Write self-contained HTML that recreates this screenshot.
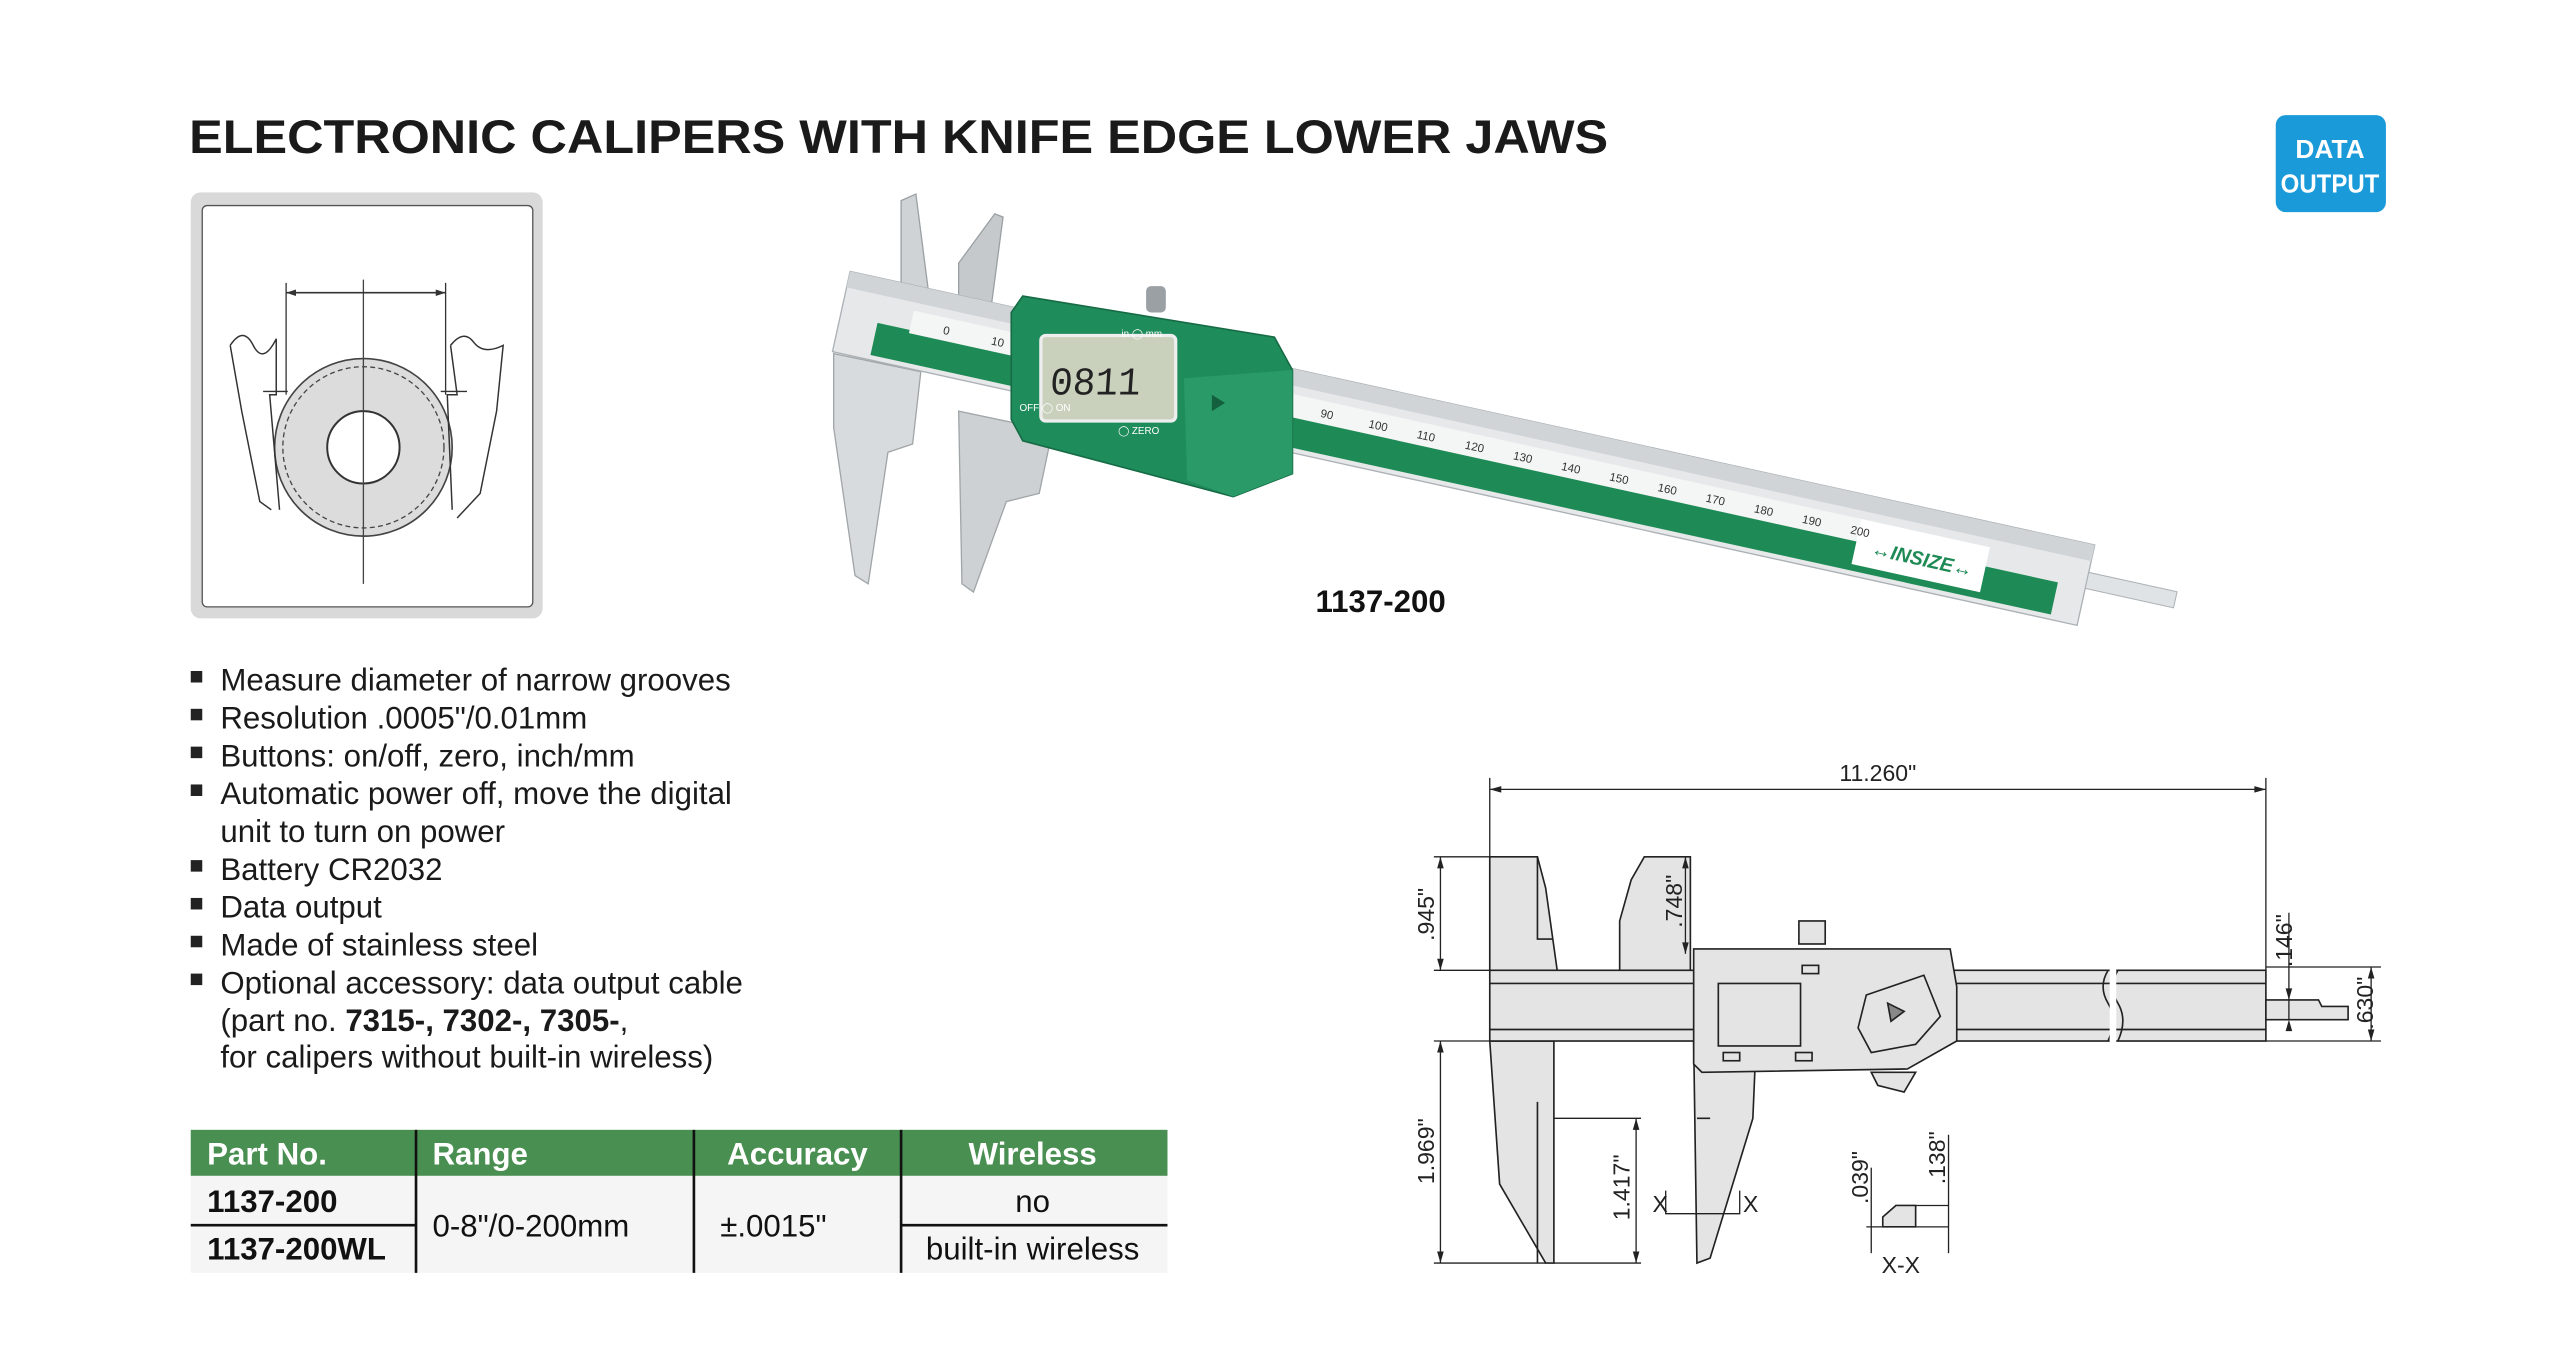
<!DOCTYPE html>
<html><head><meta charset="utf-8"><style>
html,body{margin:0;padding:0;background:#fff;}
svg{display:block;}
</style></head><body>
<svg width="2552" height="1365" viewBox="0 0 1552 830" preserveAspectRatio="none" xmlns="http://www.w3.org/2000/svg" font-family="Liberation Sans, Arial, sans-serif">
<rect width="1552" height="830" fill="#fff"/>
<text x="115" y="93" font-size="29" font-weight="bold" fill="#1a1a1a" textLength="863" lengthAdjust="spacingAndGlyphs">ELECTRONIC CALIPERS WITH KNIFE EDGE LOWER JAWS</text>
<rect x="1384" y="70" width="67" height="59" rx="6" fill="#1a9ad8"/>
<text x="1417" y="96" font-size="16" font-weight="bold" fill="#fff" text-anchor="middle">DATA</text>
<text x="1417" y="117" font-size="16" font-weight="bold" fill="#fff" text-anchor="middle" textLength="60" lengthAdjust="spacingAndGlyphs">OUTPUT</text>

<rect x="116" y="117" width="214" height="259" rx="6" fill="#d9d9d9"/>
<rect x="123" y="125" width="201" height="244" rx="3" fill="#fff" stroke="#555" stroke-width="0.8"/>
<circle cx="221" cy="272" r="54" fill="#dcdcdc" stroke="#444" stroke-width="1"/>
<circle cx="221" cy="272" r="49" fill="none" stroke="#444" stroke-width="0.8" stroke-dasharray="3,2"/>
<circle cx="221" cy="272" r="22" fill="#fff" stroke="#333" stroke-width="1.2"/>
<line x1="221" y1="170" x2="221" y2="355" stroke="#444" stroke-width="0.8"/>
<line x1="174" y1="178" x2="271" y2="178" stroke="#333" stroke-width="1"/>
<path d="M174 178 l6 -2 v4z M271 178 l-6 -2 v4z" fill="#333"/>
<line x1="174" y1="172" x2="174" y2="240" stroke="#333" stroke-width="0.8"/>
<line x1="271" y1="172" x2="271" y2="240" stroke="#333" stroke-width="0.8"/>
<path d="M140 210 q8 -12 14 0 t14 -4 L168 240 L164 240 L170 310 M140 210 L147 250 L158 305 L165 310" fill="none" stroke="#333" stroke-width="0.9"/>
<path d="M274 210 q8 -10 14 -2 t18 2 L302 250 L292 300 L278 315 M274 210 L278 240 L272 240 L275 310" fill="none" stroke="#333" stroke-width="0.9"/>
<line x1="160" y1="238" x2="175" y2="238" stroke="#333" stroke-width="0.8"/>
<line x1="268" y1="238" x2="284" y2="238" stroke="#333" stroke-width="0.8"/>

<g>
  <polygon points="548,122 557,118 565,180 548,180" fill="#cfd3d6" stroke="#9aa0a4" stroke-width="0.8"/>
  <polygon points="583,160 605,130 610,132 603,185 583,185" fill="#c5c9cc" stroke="#9aa0a4" stroke-width="0.8"/>
  <polygon points="507,215 560,226 555,270 540,275 528,355 520,350 507,260" fill="#d8dbdd" stroke="#a0a5a8" stroke-width="0.8"/>
  <polygon points="583,250 640,262 632,300 612,305 592,360 585,355" fill="#cdd1d4" stroke="#a0a5a8" stroke-width="0.8"/>
  <g transform="rotate(12.4 517 165)">
    <rect x="517" y="165" width="775" height="50" fill="#e6e8ea" stroke="#aab0b4" stroke-width="0.8"/>
    <rect x="517" y="165" width="775" height="10" fill="#d0d4d7"/>
    <rect x="540" y="192" width="735" height="20" fill="#1e8a55"/>
    <rect x="560" y="180" width="600" height="14" fill="#f4f5f5"/>
    <rect x="1150" y="180" width="80" height="28" fill="#fff"/>
    <text x="1160" y="200" font-size="12" font-weight="bold" font-style="italic" fill="#1e8a55">&#8596;INSIZE&#8596;</text>
    <rect x="1292" y="182" width="55" height="10" fill="#e0e3e5" stroke="#aab0b4" stroke-width="0.6"/>
    <g font-size="7" fill="#333">
      <text x="580" y="190">0</text><text x="610" y="190">10</text>
      <text x="815" y="190">90</text><text x="845" y="190">100</text><text x="875" y="190">110</text><text x="905" y="190">120</text><text x="935" y="190">130</text><text x="965" y="190">140</text><text x="995" y="190">150</text><text x="1025" y="190">160</text><text x="1055" y="190">170</text><text x="1085" y="190">180</text><text x="1115" y="190">190</text><text x="1145" y="190">200</text>
    </g>
  </g>
  <polygon points="622,180 775,205 786,225 786,288 750,302 622,268 615,255 615,190" fill="#1f8c5c" stroke="#166b45" stroke-width="1"/>
  <polygon points="720,230 786,225 786,288 750,302 722,292" fill="#2a9a68"/>
  <rect x="633" y="204" width="82" height="52" rx="3" fill="#c9d1bd" stroke="#eee" stroke-width="2"/>
  <text x="655" y="240" font-size="24" fill="#222" font-family="Liberation Mono, monospace" transform="skewX(-4)" textLength="55" lengthAdjust="spacingAndGlyphs">0811</text>
  <rect x="697" y="174" width="12" height="16" rx="3" fill="#9aa0a4"/>
  <text x="682" y="205" font-size="6" fill="#fff">in ◯ mm</text>
  <text x="620" y="250" font-size="6" fill="#fff">OFF ◯ ON</text>
  <text x="680" y="264" font-size="6" fill="#fff">◯ ZERO</text>
  <path d="M737 240 l8 5 -8 5z" fill="#145f3d"/>
</g>
<text x="800" y="372" font-size="19" font-weight="bold" fill="#111">1137-200</text>

<g font-size="19" fill="#1a1a1a">
  <rect x="116" y="408" width="7" height="7" fill="#222"/><text x="134" y="420">Measure diameter of narrow grooves</text>
  <rect x="116" y="431" width="7" height="7" fill="#222"/><text x="134" y="443">Resolution .0005"/0.01mm</text>
  <rect x="116" y="454" width="7" height="7" fill="#222"/><text x="134" y="466">Buttons: on/off, zero, inch/mm</text>
  <rect x="116" y="477" width="7" height="7" fill="#222"/><text x="134" y="489">Automatic power off, move the digital</text>
  <text x="134" y="512">unit to turn on power</text>
  <rect x="116" y="523" width="7" height="7" fill="#222"/><text x="134" y="535">Battery CR2032</text>
  <rect x="116" y="546" width="7" height="7" fill="#222"/><text x="134" y="558">Data output</text>
  <rect x="116" y="569" width="7" height="7" fill="#222"/><text x="134" y="581">Made of stainless steel</text>
  <rect x="116" y="592" width="7" height="7" fill="#222"/><text x="134" y="604">Optional accessory: data output cable</text>
  <text x="134" y="627">(part no. <tspan font-weight="bold">7315-, 7302-, 7305-</tspan>,</text>
  <text x="134" y="649">for calipers without built-in wireless)</text>
</g>

<rect x="116" y="687" width="594" height="28" fill="#4a8f52"/>
<rect x="116" y="715" width="594" height="59" fill="#f4f5f4"/>
<g stroke="#111" stroke-width="1.6">
  <line x1="253" y1="687" x2="253" y2="774"/>
  <line x1="422" y1="687" x2="422" y2="774"/>
  <line x1="548" y1="687" x2="548" y2="774"/>
  <line x1="116" y1="745" x2="253" y2="745"/>
  <line x1="548" y1="745" x2="710" y2="745"/>
</g>
<g font-size="19" fill="#fff" font-weight="bold">
  <text x="126" y="708">Part No.</text>
  <text x="263" y="708">Range</text>
  <text x="485" y="708" text-anchor="middle">Accuracy</text>
  <text x="628" y="708" text-anchor="middle">Wireless</text>
</g>
<g font-size="19" fill="#111">
  <text x="126" y="737" font-weight="bold">1137-200</text>
  <text x="126" y="766" font-weight="bold">1137-200WL</text>
  <text x="263" y="752">0-8"/0-200mm</text>
  <text x="438" y="752">±.0015"</text>
  <text x="628" y="737" text-anchor="middle">no</text>
  <text x="628" y="766" text-anchor="middle">built-in wireless</text>
</g>

<g stroke="#222" stroke-width="1" fill="#e4e4e4">
  <polygon points="906,521 935,521 940,540 947,590 906,590"/>
  <polyline points="935,521 935,571 944,571" fill="none"/>
  <polygon points="1000,521 1028,521 1028,590 985,590 985,560 992,535"/>
  <polygon points="906,633 945,633 945,768 940,768 912,720"/>
  <line x1="935" y1="670" x2="935" y2="768"/>
  <polygon points="1030,633 1068,633 1066,680 1040,765 1032,768"/>
  <line x1="1032" y1="680" x2="1040" y2="680"/>
  <rect x="906" y="590" width="472" height="43"/>
  <line x1="906" y1="598" x2="1378" y2="598"/>
  <line x1="906" y1="626" x2="1378" y2="626"/>
  <polygon points="1378,608 1410,608 1412,612 1428,612 1428,620 1378,620"/>
  <polygon points="1030,577 1186,577 1190,600 1190,633 1160,650 1035,652 1030,647"/>
  <rect x="1045" y="598" width="50" height="38"/>
  <rect x="1096" y="587" width="10" height="5"/>
  <rect x="1048" y="640" width="10" height="5"/>
  <rect x="1092" y="640" width="10" height="5"/>
  <polygon points="1135,605 1170,593 1180,618 1165,635 1138,640 1130,625"/>
  <path d="M1148 610 l10 5 -8 6z" fill="#888"/>
  <polygon points="1138,652 1165,652 1158,664 1142,660"/>
  <rect x="1094" y="560" width="16" height="14"/>
  <path d="M1282 590 q-6 10 0 20 t0 23" fill="none"/>
  <path d="M1288 590 q-6 10 0 20 t0 23" fill="none"/>
  <polygon points="1153,733 1165,733 1165,746 1145,746 1145,740"/>
</g>
<rect x="1283" y="589" width="4" height="46" fill="#fff"/>
<g stroke="#222" stroke-width="0.8" fill="none">
  <line x1="906" y1="473" x2="906" y2="521"/>
  <line x1="1378" y1="473" x2="1378" y2="590"/>
  <line x1="906" y1="480" x2="1378" y2="480"/>
  <line x1="872" y1="521" x2="906" y2="521"/><line x1="872" y1="590" x2="906" y2="590"/>
  <line x1="876" y1="521" x2="876" y2="590"/>
  <line x1="872" y1="633" x2="906" y2="633"/><line x1="872" y1="768" x2="940" y2="768"/>
  <line x1="876" y1="633" x2="876" y2="768"/>
  <line x1="945" y1="680" x2="998" y2="680"/><line x1="945" y1="768" x2="998" y2="768"/>
  <line x1="995" y1="680" x2="995" y2="768"/>
  <line x1="1025" y1="521" x2="1025" y2="580"/>
  <line x1="1392" y1="555" x2="1392" y2="620"/>
  <line x1="1378" y1="633" x2="1448" y2="633"/><line x1="1378" y1="588" x2="1448" y2="588"/>
  <line x1="1442" y1="588" x2="1442" y2="633"/>
  <polyline points="1013,724 1013,738 1058,738 1058,724"/>
  <line x1="1138" y1="710" x2="1138" y2="762"/><line x1="1185" y1="690" x2="1185" y2="762"/>
  <line x1="1135" y1="746" x2="1185" y2="746"/><line x1="1165" y1="733" x2="1185" y2="733"/>
</g>
<g fill="#222">
  <path d="M906 480 l7 -2 v4z M1378 480 l-7 -2 v4z"/>
  <path d="M876 521 l-2 7 h4z M876 590 l-2 -7 h4z M876 633 l-2 7 h4z M876 768 l-2 -7 h4z"/>
  <path d="M995 680 l-2 7 h4z M995 768 l-2 -7 h4z M1025 521 l-2 7 h4z M1025 580 l-2 -7 h4z"/>
  <path d="M1442 588 l-2 7 h4z M1442 633 l-2 -7 h4z M1392 608 l-2 -7 h4z M1392 620 l-2 7 h4z"/>
</g>
<g font-size="14" fill="#222">
  <text x="1142" y="475" text-anchor="middle">11.260"</text>
  <text transform="translate(872 556) rotate(-90)" text-anchor="middle">.945"</text>
  <text transform="translate(872 700) rotate(-90)" text-anchor="middle">1.969"</text>
  <text transform="translate(991 722) rotate(-90)" text-anchor="middle">1.417"</text>
  <text transform="translate(1023 548) rotate(-90)" text-anchor="middle">.748"</text>
  <text transform="translate(1394 572) rotate(-90)" text-anchor="middle">.146"</text>
  <text transform="translate(1443 610) rotate(-90)" text-anchor="middle">.630"</text>
  <text transform="translate(1136 716) rotate(-90)" text-anchor="middle">.039"</text>
  <text transform="translate(1183 704) rotate(-90)" text-anchor="middle">.138"</text>
  <text x="1005" y="737">X</text>
  <text x="1060" y="737">X</text>
  <text x="1156" y="774" text-anchor="middle">X-X</text>
</g>
</svg>
</body></html>
